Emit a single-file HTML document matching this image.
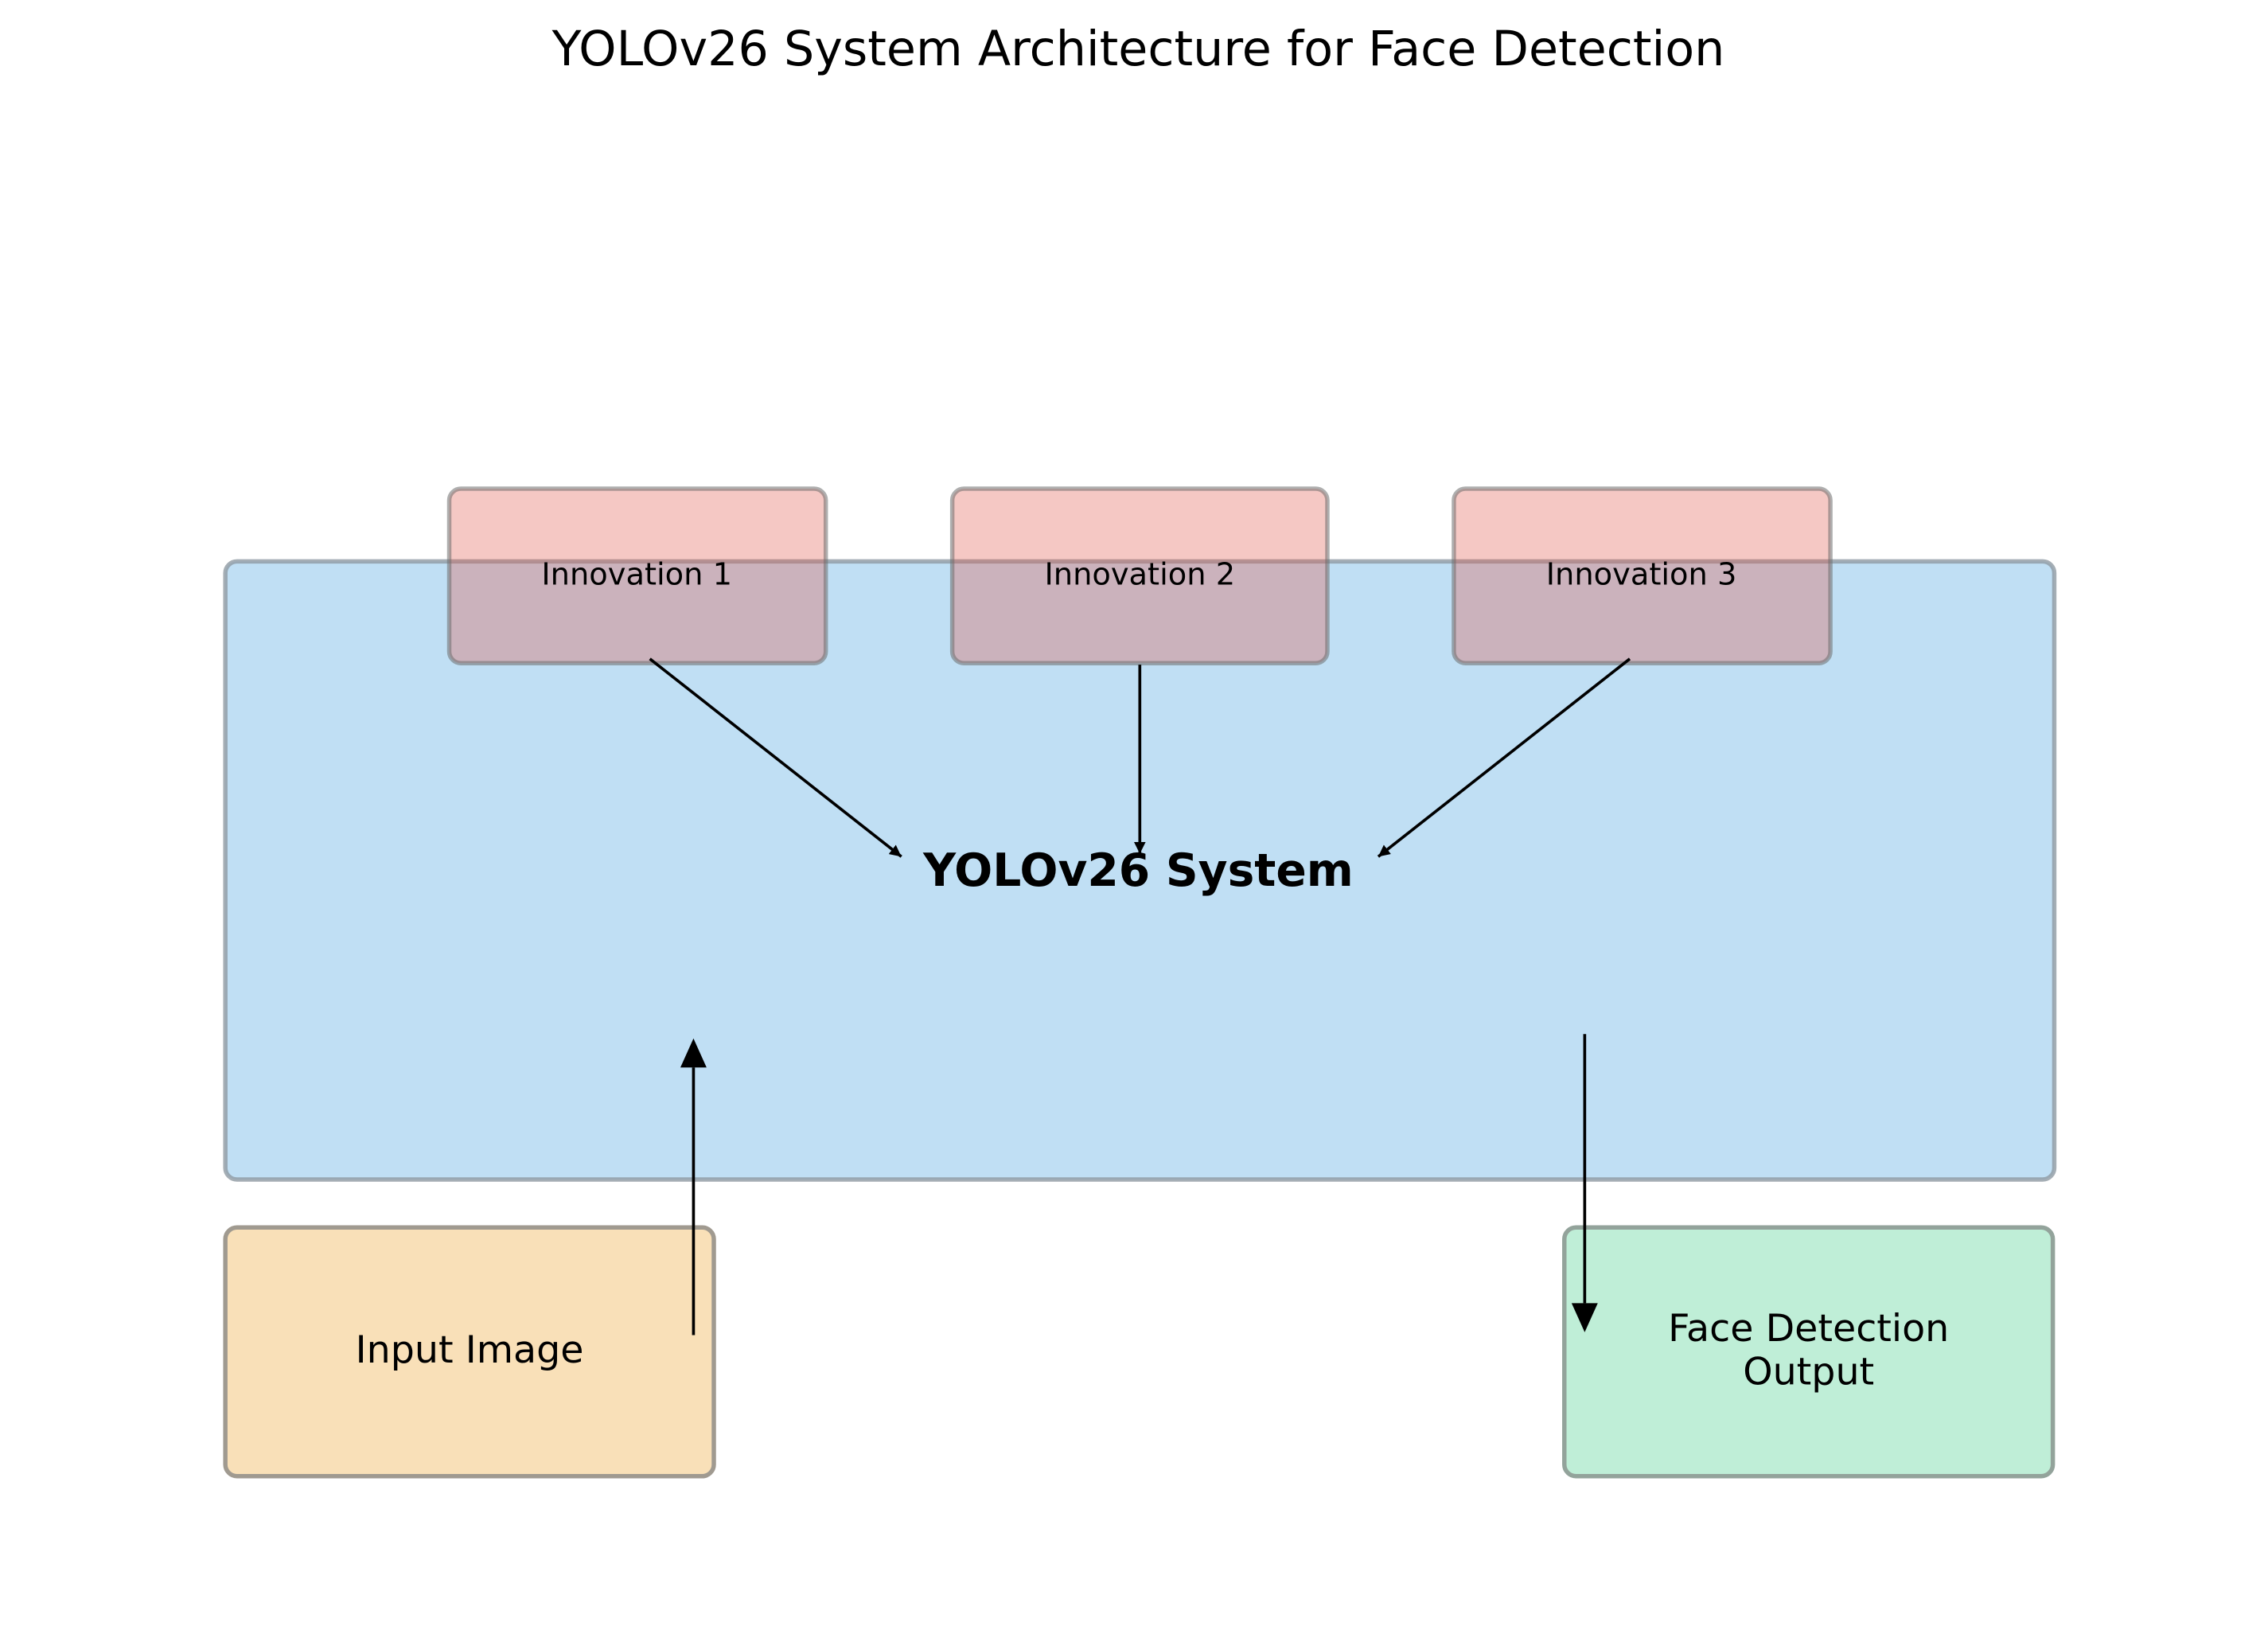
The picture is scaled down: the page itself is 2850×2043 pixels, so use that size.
<!DOCTYPE html>
<html><head><meta charset="utf-8"><style>html,body{margin:0;padding:0;background:#fff}svg{display:block}</style></head><body>
<svg width="2850" height="2043" viewBox="0 0 1560 1118" preserveAspectRatio="none" xmlns="http://www.w3.org/2000/svg" font-family="'DejaVu Sans','Liberation Sans',sans-serif">
<defs>
<marker id="a" viewBox="0 0 10 10" refX="10" refY="5" markerWidth="8" markerHeight="8" markerUnits="userSpaceOnUse" orient="auto"><path d="M0,0 L10,5 L0,10 z" fill="#000"/></marker>
</defs>
<rect width="1560" height="1118" fill="#fff"/>
<text x="783" y="45" font-size="33" text-anchor="middle">YOLOv26 System Architecture for Face Detection</text>
<rect x="155" y="386" width="1258" height="425" rx="8" fill="#c0dff4" stroke="#8f9aa3" stroke-width="3" stroke-opacity="0.8"/>
<g fill="rgb(225,87,75)" fill-opacity="0.33" stroke="#6e6e6e" stroke-opacity="0.55" stroke-width="3">
<rect x="309" y="336" width="259" height="120" rx="8"/>
<rect x="655" y="336" width="258" height="120" rx="8"/>
<rect x="1000" y="336" width="259" height="120" rx="8"/>
</g>
<g font-size="21" text-anchor="middle">
<text x="438" y="402">Innovation 1</text>
<text x="784" y="402">Innovation 2</text>
<text x="1129" y="402">Innovation 3</text>
</g>
<text x="783" y="609" font-size="31" font-weight="bold" text-anchor="middle">YOLOv26 System</text>
<rect x="155" y="844" width="336" height="171" rx="8" fill="#f9e0b8" stroke="#a09a90" stroke-width="3"/>
<rect x="1076" y="844" width="336" height="171" rx="8" fill="#bfeed7" stroke="#93a39b" stroke-width="3"/>
<text x="323" y="937" font-size="26" text-anchor="middle">Input Image</text>
<text x="1244" y="922" font-size="26" text-anchor="middle">Face Detection</text>
<text x="1244" y="952" font-size="26" text-anchor="middle">Output</text>
<g stroke="#000" stroke-width="2" fill="none">
<line x1="447" y1="453" x2="620" y2="589" marker-end="url(#a)"/>
<line x1="784" y1="457" x2="784" y2="587" marker-end="url(#a)"/>
<line x1="1121" y1="453" x2="948" y2="589" marker-end="url(#a)"/>
</g>
<line x1="477" y1="918" x2="477" y2="734" stroke="#000" stroke-width="2"/>
<path d="M468,734 L477,714 L486,734 z" fill="#000"/>
<line x1="1090" y1="711" x2="1090" y2="896" stroke="#000" stroke-width="2"/>
<path d="M1081,896 L1090,916 L1099,896 z" fill="#000"/>
</svg>
</body></html>
